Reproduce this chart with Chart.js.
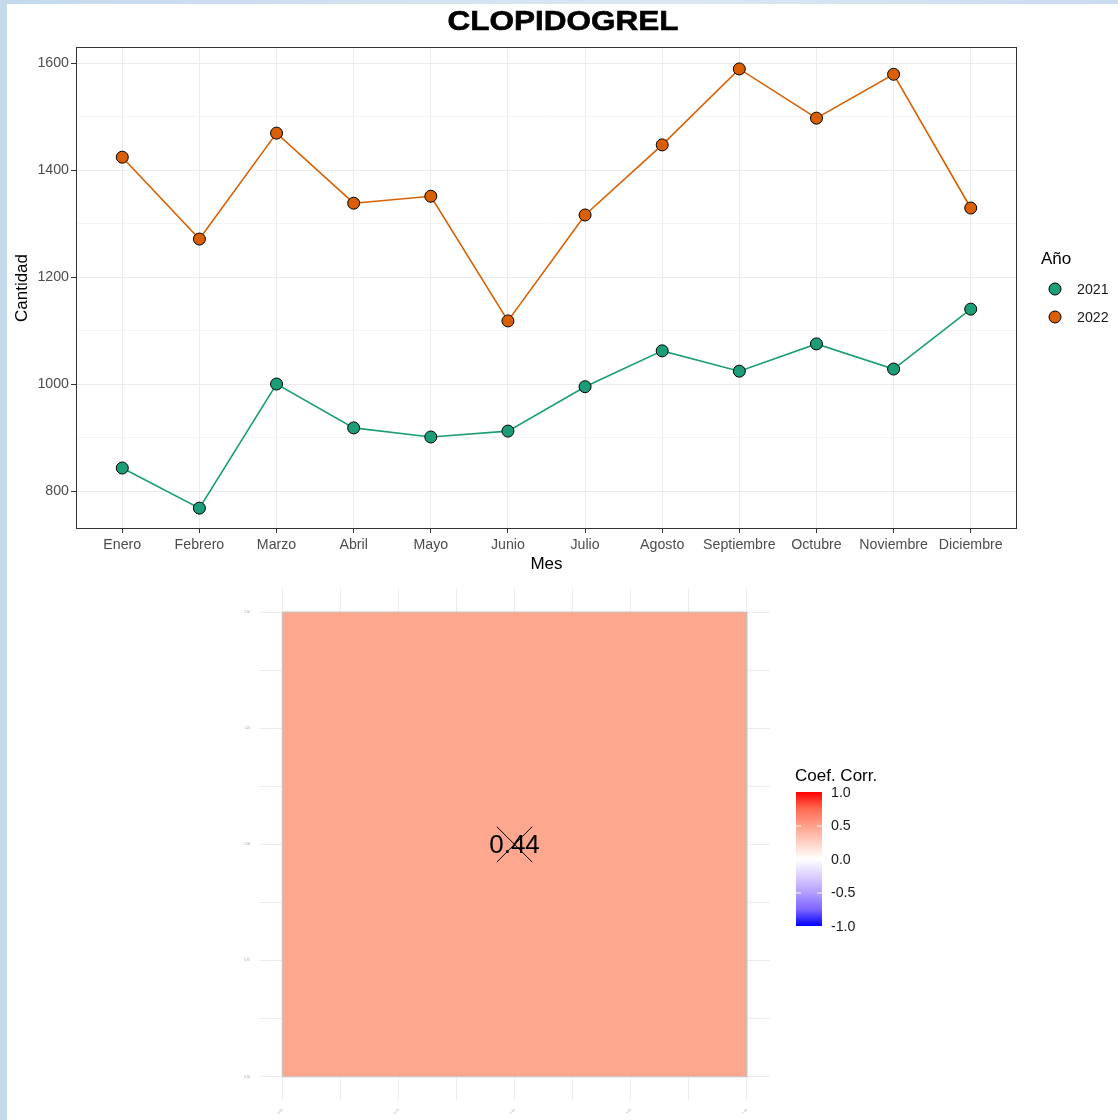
<!DOCTYPE html>
<html>
<head>
<meta charset="utf-8">
<title>CLOPIDOGREL</title>
<script src="https://cdn.jsdelivr.net/npm/chart.js@4.4.1/dist/chart.umd.min.js"></script>
<style>
  html, body { margin: 0; padding: 0; }
  body {
    width: 1118px; height: 1120px; position: relative; overflow: hidden;
    background: linear-gradient(90deg, #c4d9ec, #dbe8f4 60%, #c9dcee);
    font-family: "Liberation Sans", Arial, sans-serif;
  }
  #paper { position: absolute; left: 7px; top: 4px; right: 0; bottom: 0; background: #fff; }
  #lineChart { position: absolute; left: 0; top: 0; }
  #corrChart { position: absolute; left: 0; top: 578px; }
</style>
</head>
<body>
<div id="paper"></div>
<canvas id="lineChart" width="1118" height="585"></canvas>
<canvas id="corrChart" width="1118" height="542"></canvas>
<script>
// datos
const meses = ['Enero', 'Febrero', 'Marzo', 'Abril', 'Mayo', 'Junio', 'Julio',
  'Agosto', 'Septiembre', 'Octubre', 'Noviembre', 'Diciembre'];
const cantidad2021 = [843, 768, 1000, 918, 901, 912, 995, 1062, 1024, 1075, 1028, 1140];
const cantidad2022 = [1424, 1271, 1469, 1338, 1351, 1118, 1316, 1447, 1589, 1497, 1579, 1329];
const anios = ['2021', '2022'];
const colores = ['#1B9E77', '#D95F02'];
const ticksCantidad = [800, 1000, 1200, 1400, 1600];

const coefCorr = 0.44;
const corrX = [1];
const corrY = [1];
const ticksCorr = [0.5, 0.75, 1.0, 1.25, 1.5];
const ticksLeyenda = [1.0, 0.5, 0.0, -0.5, -1.0];

const FONT = '"Liberation Sans", Arial, sans-serif';
const TOP2 = 578; // top del segundo canvas

// --- grafico de lineas ---
const serie = (vals) => vals.map((v, i) => ({ x: i, y: v }));
const minorCantidad = ticksCantidad.slice(1).map((t, i) => (t + ticksCantidad[i]) / 2);

const panelLineas = {
  id: 'panelLineas',
  afterDraw(chart) {
    const { ctx, chartArea: a } = chart;
    ctx.save();
    ctx.strokeStyle = '#333333';
    ctx.lineWidth = 1;
    ctx.strokeRect(a.left + 0.5, a.top + 0.5, a.right - a.left - 1, a.bottom - a.top - 1);

    // titulo
    ctx.save();
    ctx.fillStyle = '#000';
    ctx.strokeStyle = '#000';
    ctx.lineWidth = 0.6;
    ctx.font = 'bold 28px ' + FONT;
    ctx.textAlign = 'center';
    ctx.textBaseline = 'middle';
    ctx.translate(563, 22);
    ctx.scale(1.125, 1);
    ctx.fillText('CLOPIDOGREL', 0, 0);
    ctx.strokeText('CLOPIDOGREL', 0, 0);
    ctx.restore();

    // leyenda
    ctx.textAlign = 'left';
    ctx.textBaseline = 'middle';
    ctx.fillStyle = '#000';
    ctx.font = '17px ' + FONT;
    ctx.fillText('Año', 1041, 259);
    ctx.font = '14.2px ' + FONT;
    anios.forEach((an, i) => {
      const y = 289 + i * 28;
      ctx.beginPath();
      ctx.arc(1055, y, 6, 0, Math.PI * 2);
      ctx.fillStyle = colores[i];
      ctx.fill();
      ctx.strokeStyle = '#000';
      ctx.stroke();
      ctx.fillStyle = '#1a1a1a';
      ctx.fillText(an, 1077, y + 1);
    });
    ctx.restore();
  }
};

new Chart(document.getElementById('lineChart'), {
  type: 'line',
  data: {
    datasets: [cantidad2021, cantidad2022].map((vals, i) => ({
      label: anios[i],
      data: serie(vals),
      borderColor: colores[i],
      backgroundColor: colores[i],
      borderWidth: 1.6,
      pointRadius: 6,
      pointHoverRadius: 6,
      pointBorderColor: '#000',
      pointBorderWidth: 1,
      tension: 0
    }))
  },
  options: {
    responsive: false,
    devicePixelRatio: 1,
    animation: false,
    layout: { autoPadding: false, padding: { left: 0, top: 47, right: 101, bottom: 0 } },
    plugins: { legend: { display: false }, title: { display: false }, tooltip: { enabled: false } },
    scales: {
      x: {
        type: 'linear',
        min: -0.6,
        max: 11.6,
        afterBuildTicks: (s) => { s.ticks = meses.map((m, i) => ({ value: i })); },
        afterFit: (s) => { s.height = 56; },
        ticks: {
          autoSkip: false, maxRotation: 0,
          callback: (v) => meses[v] ?? '',
          color: '#4D4D4D', font: { family: FONT, size: 14.2 }, padding: 4
        },
        grid: { color: '#EBEBEB', tickColor: '#333333', tickLength: 4 },
        border: { display: false },
        title: { display: true, text: 'Mes', color: '#000', font: { family: FONT, size: 17 }, padding: { top: 0, bottom: 10 } }
      },
      y: {
        min: 729,
        max: 1630,
        afterBuildTicks: (s) => {
          s.ticks = ticksCantidad.concat(minorCantidad).sort((a, b) => a - b).map(v => ({ value: v }));
        },
        afterFit: (s) => { s.width = 76; },
        ticks: {
          callback: (v) => ticksCantidad.includes(v) ? String(v) : '',
          color: '#4D4D4D', font: { family: FONT, size: 14.2 }, padding: 2
        },
        grid: {
          color: (c) => ticksCantidad.includes(c.tick.value) ? '#EBEBEB' : '#F3F3F3',
          tickColor: (c) => ticksCantidad.includes(c.tick.value) ? '#333333' : 'rgba(0,0,0,0)',
          tickLength: 5
        },
        border: { display: false },
        title: { display: true, text: 'Cantidad', color: '#000', font: { family: FONT, size: 17 }, padding: { top: 12, bottom: 0 } }
      }
    }
  },
  plugins: [panelLineas]
});

// --- mapa de correlacion ---
const colorCelda = '#FCA78E';
const minorCorr = ticksCorr.slice(1).map((t, i) => (t + ticksCorr[i]) / 2);
const todosCorr = ticksCorr.concat(minorCorr).sort((a, b) => a - b);

const textoCorr = {
  id: 'textoCorr',
  afterDatasetsDraw(chart) {
    const { ctx, scales } = chart;
    ctx.save();
    ctx.fillStyle = '#000';
    ctx.font = '26px ' + FONT;
    ctx.textAlign = 'center';
    ctx.textBaseline = 'middle';
    ctx.fillText(coefCorr.toFixed(2), scales.x.getPixelForValue(corrX[0]), scales.y.getPixelForValue(corrY[0]) + 1);
    ctx.restore();
  },
  afterDraw(chart) {
    const { ctx } = chart;
    const bx = 796, bw = 26, by = 792 - TOP2, bh = 134;
    ctx.save();
    ctx.fillStyle = '#000';
    ctx.font = '17px ' + FONT;
    ctx.textAlign = 'left';
    ctx.textBaseline = 'middle';
    ctx.fillText('Coef. Corr.', 795, 776 - TOP2);

    const g = ctx.createLinearGradient(0, by, 0, by + bh);
    g.addColorStop(0, '#FF0000');
    g.addColorStop(0.125, '#FF6A52');
    g.addColorStop(0.25, '#FFA08A');
    g.addColorStop(0.375, '#FFD0C4');
    g.addColorStop(0.5, '#FFFFFF');
    g.addColorStop(0.625, '#DDD0FF');
    g.addColorStop(0.75, '#B39EFF');
    g.addColorStop(0.875, '#7F66FF');
    g.addColorStop(1, '#0000FF');
    ctx.fillStyle = g;
    ctx.fillRect(bx, by, bw, bh);

    ctx.font = '14.2px ' + FONT;
    ticksLeyenda.forEach((v) => {
      const y = by + (1 - v) / 2 * bh;
      if (Math.abs(v) < 1) {
        ctx.strokeStyle = '#fff';
        ctx.lineWidth = 1;
        ctx.beginPath();
        ctx.moveTo(bx, y + 0.5); ctx.lineTo(bx + 5, y + 0.5);
        ctx.moveTo(bx + bw - 5, y + 0.5); ctx.lineTo(bx + bw, y + 0.5);
        ctx.stroke();
      }
      ctx.fillStyle = '#1a1a1a';
      ctx.fillText(v.toFixed(1), 831, y + 1);
    });
    ctx.restore();
  }
};

new Chart(document.getElementById('corrChart'), {
  type: 'scatter',
  data: {
    datasets: [
      {
        order: 3,
        data: [{ x: corrX[0] - 0.5, y: corrY[0] + 0.5 }, { x: corrX[0] + 0.5, y: corrY[0] + 0.5 }],
        showLine: true,
        borderWidth: 0,
        pointRadius: 0,
        backgroundColor: colorCelda,
        fill: { value: corrY[0] - 0.5 }
      },
      {
        order: 2,
        data: [
          { x: corrX[0] - 0.5, y: corrY[0] - 0.5 }, { x: corrX[0] - 0.5, y: corrY[0] + 0.5 },
          { x: corrX[0] + 0.5, y: corrY[0] + 0.5 }, { x: corrX[0] + 0.5, y: corrY[0] - 0.5 },
          { x: corrX[0] - 0.5, y: corrY[0] - 0.5 }
        ],
        showLine: true,
        borderColor: '#C4C4C4',
        borderWidth: 1,
        pointRadius: 0,
        fill: false
      },
      {
        order: 1,
        data: corrX.map((x, i) => ({ x: x, y: corrY[i] })),
        pointStyle: 'crossRot',
        pointRadius: 25,
        pointHoverRadius: 25,
        pointBorderColor: '#000',
        pointBorderWidth: 1,
        borderColor: '#000',
        borderWidth: 1,
        backgroundColor: 'rgba(0,0,0,0)'
      }
    ]
  },
  options: {
    responsive: false,
    devicePixelRatio: 1,
    animation: false,
    layout: { autoPadding: false, padding: { left: 0, top: 5, right: 348, bottom: 0 } },
    plugins: { legend: { display: false }, tooltip: { enabled: false } },
    scales: {
      x: {
        type: 'linear', min: 0.45, max: 1.55,
        afterBuildTicks: (s) => { s.ticks = todosCorr.map(v => ({ value: v })); },
        afterFit: (s) => { s.height = 20; },
        ticks: {
          autoSkip: false, minRotation: 45, maxRotation: 45,
          callback: (v) => ticksCorr.includes(v) ? v.toFixed(2) : '',
          color: '#9A9A9A', font: { family: FONT, size: 3 }, padding: 8
        },
        grid: { color: '#EDEDED', drawTicks: false },
        border: { display: false }
      },
      y: {
        min: 0.45, max: 1.55,
        afterBuildTicks: (s) => { s.ticks = todosCorr.map(v => ({ value: v })); },
        afterFit: (s) => { s.width = 259; },
        ticks: {
          callback: (v) => ticksCorr.includes(v) ? v.toFixed(2) : '',
          color: '#9A9A9A', font: { family: FONT, size: 3 }, padding: 9
        },
        grid: { color: '#EDEDED', drawTicks: false },
        border: { display: false }
      }
    }
  },
  plugins: [textoCorr]
});
</script>
</body>
</html>
